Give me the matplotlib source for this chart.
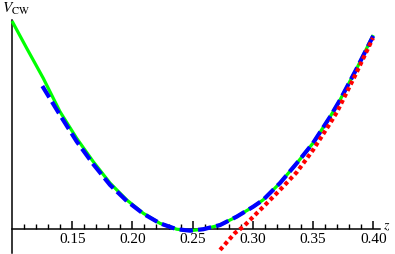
import matplotlib
matplotlib.use("Agg")
import matplotlib.pyplot as plt

plt.rcParams["mathtext.fontset"] = "stix"
plt.rcParams["font.family"] = "serif"
plt.rcParams["font.serif"] = ["Liberation Serif", "DejaVu Serif"]

# ── Data (arbitrary V units, x-axis at V = 0) ─────────────────────────────────
z_full = [0.100, 0.1122, 0.1260, 0.1399, 0.1537, 0.1675, 0.1814, 0.1953,
          0.2091, 0.2229, 0.2368, 0.2478, 0.2589, 0.2728, 0.2866, 0.3004,
          0.3085, 0.3226, 0.3367, 0.3500, 0.3641, 0.3724, 0.3865, 0.400]
v_full = [0.995, 0.865, 0.721, 0.561, 0.434, 0.322, 0.220, 0.139,
          0.075, 0.027, -0.001, -0.008, -0.001, 0.019, 0.059, 0.107,
          0.139, 0.220, 0.316, 0.411, 0.536, 0.617, 0.770, 0.928]

z_approx = [0.1252, 0.1399, 0.1537, 0.1675, 0.1814, 0.1953, 0.2091, 0.2229,
            0.2368, 0.2478, 0.2589, 0.2728, 0.2866, 0.3004, 0.3085, 0.3226,
            0.3367, 0.3500, 0.3641, 0.3724, 0.3865, 0.400]
v_approx = [0.684, 0.545, 0.419, 0.310, 0.211, 0.134, 0.073, 0.027,
            -0.001, -0.008, -0.001, 0.019, 0.059, 0.107, 0.139, 0.220,
            0.316, 0.411, 0.536, 0.617, 0.770, 0.924]

z_large = [0.2728, 0.2852, 0.2921, 0.3032, 0.3085, 0.3226, 0.3367, 0.3500,
           0.3641, 0.3699, 0.3850, 0.3998]
v_large = [-0.100, -0.019, 0.011, 0.075, 0.105, 0.187, 0.273, 0.378,
           0.505, 0.560, 0.735, 0.914]

major_ticks = [0.15, 0.20, 0.25, 0.30, 0.35, 0.40]
major_labels = ["0.15", "0.20", "0.25", "0.30", "0.35", "0.40"]
minor_ticks = [round(0.11 + 0.01 * i, 2) for i in range(30) if (11 + i) % 5]

# ── Figure ────────────────────────────────────────────────────────────────────
fig = plt.figure(figsize=(3.95, 2.54), dpi=100)
ax = fig.add_axes([0, 0, 1, 1])
ax.set_xlim(0.09003, 0.4181)
ax.set_ylim(-0.1196, 1.0957)

ax.plot(z_full, v_full, color="#00ff00", lw=2.3, solid_capstyle="butt",
        solid_joinstyle="round", zorder=3)
ax.plot(z_approx, v_approx, color="#0000ff", lw=3.0,
        linestyle=(0, (3.2, 1.25)), dash_capstyle="butt", zorder=4)
ax.plot(z_large, v_large, color="#ff0000", lw=3.0,
        linestyle=(0, (0.95, 0.75)), dash_capstyle="butt", zorder=5)

# Mathematica-style axes crossing at (0.1, 0)
for s in ("top", "right"):
    ax.spines[s].set_visible(False)
ax.spines["left"].set_position(("data", 0.1))
ax.spines["bottom"].set_position(("data", 0.0))
ax.spines["left"].set_bounds(-0.115, 1.0)
ax.spines["bottom"].set_bounds(0.1, 0.4056)
for s in ("left", "bottom"):
    ax.spines[s].set_linewidth(1.1)

ax.set_yticks([])
ax.set_xticks(major_ticks)
ax.set_xticklabels(major_labels)
ax.set_xticks(minor_ticks, minor=True)
ax.xaxis.set_ticks_position("bottom")
ax.tick_params(axis="x", which="major", direction="in", length=5.5, width=1.1,
               color="black", pad=3, labelsize=11)
ax.tick_params(axis="x", which="minor", direction="in", length=3.8, width=1.0,
               color="black")

ax.text(0.4085, 0.012, r"$z$", fontsize=10, ha="left", va="center")
fig.text(0.005, 0.995, r"$V_{\rm CW}$", fontsize=11, ha="left", va="top")

fig.savefig("out.png", dpi=100, facecolor="white")
